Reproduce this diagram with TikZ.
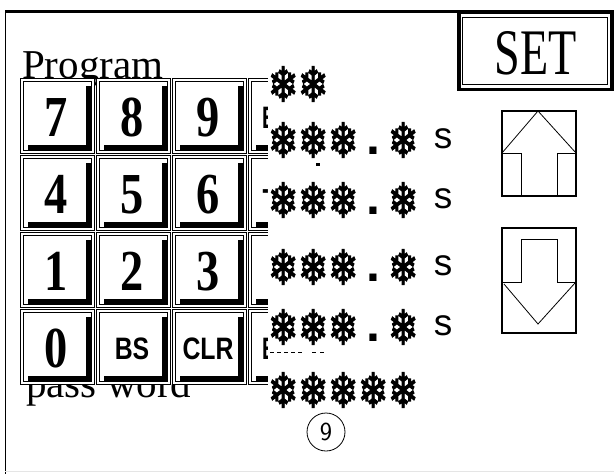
\documentclass[tikz,border=0pt]{standalone}
\usepackage{fontspec}
\setmainfont{Liberation Serif}
\newfontfamily\lsans{Liberation Sans}
\newfontfamily\djv{DejaVu Sans}[FakeBold=2.5]
\newcommand\mystar{\makebox[30pt]{\raisebox{-9.5pt}{\scalebox{0.75}[1]{\djv\bfseries\fontsize{48}{48}\selectfont ❄}}}}
\newcommand\mydot{\makebox[30pt]{\raisebox{-6pt}{\lsans\bfseries\fontsize{50}{50}\selectfont .}}}
\newcommand\mys{\makebox[50pt]{\lsans\fontsize{37}{37}\selectfont s}}
\begin{document}
\begin{tikzpicture}[x=1pt,y=-1pt,line join=miter,
  cellline/.style={draw=black,line width=0.9pt,fill=white},
  btnline/.style={draw=black,line width=0.9pt},
  bigkey/.style={inner sep=0pt,font=\bfseries\fontsize{58}{58}\selectfont},
  smallkey/.style={inner sep=0pt,font=\lsans\bfseries\fontsize{31}{31}\selectfont},
  bigtext/.style={anchor=base west,inner sep=0pt,font=\fontsize{41}{41}\selectfont},
  starrow/.style={anchor=base west,inner sep=0pt},
  arrowbox/.style={draw=black,line width=1.2pt},
  arrowline/.style={draw=black,line width=0.8pt}]
\useasboundingbox (0,0) rectangle (614,474);
\fill[white] (0,0) rectangle (614,474);
% frame
\draw[line width=3pt] (5,11.5) -- (614,11.5);
\draw[line width=1pt] (5.5,10) -- (5.5,474);
\draw[black!10,line width=1pt] (5,471.5) -- (614,471.5);
% background texts
\node[bigtext] (prog) at (22,78) {Program};
\node[bigtext] (pw) at (26,397) {pass word};
% keypad
\foreach \r/\c/\lab/\sty in {0/0/7/bigkey,0/1/8/bigkey,0/2/9/bigkey,
  1/0/4/bigkey,1/1/5/bigkey,1/2/6/bigkey,
  2/0/1/bigkey,2/1/2/bigkey,2/2/3/bigkey,
  3/0/0/bigkey,3/1/BS/smallkey,3/2/CLR/smallkey}{
  \pgfmathsetmacro\xo{18+76*\c}
  \pgfmathsetmacro\yo{76+77*\r}
  \draw[cellline] (\xo+2,\yo+2) rectangle (\xo+76,\yo+77);
  \draw[btnline] (\xo+5,\yo+5) rectangle (\xo+73,\yo+74);
  \fill (\xo+68,\yo+10) -- (\xo+73.4,\yo+10) -- (\xo+73.4,\yo+74.4) -- (\xo+10,\yo+74.4)
        -- (\xo+10,\yo+69) -- (\xo+68,\yo+69) -- cycle;
  \node[\sty] (k\r\c) at (\xo+38,\yo+41.5) {\scalebox{0.8}[1]{\lab}};
}
% fourth column (partly hidden)
\foreach \r/\lab in {0/E,1/-,2/{},3/E}{
  \pgfmathsetmacro\xo{246}
  \pgfmathsetmacro\yo{76+77*\r}
  \draw[cellline] (\xo+2,\yo+2) rectangle (\xo+76,\yo+77);
  \draw[btnline] (\xo+5,\yo+5) rectangle (\xo+73,\yo+74);
  \fill (\xo+68,\yo+10) -- (\xo+73.4,\yo+10) -- (\xo+73.4,\yo+74.4) -- (\xo+10,\yo+74.4)
        -- (\xo+10,\yo+69) -- (\xo+68,\yo+69) -- cycle;
  \node[smallkey,anchor=west] (k\r3) at (262,\yo+41.5) {\scalebox{0.65}[1]{\lab}};
}
% overlay of the value column
\fill[white] (268,60) rectangle (332,410);
\draw[line width=1.3pt,dash pattern=on 4pt off 3pt] (270,352.5) -- (303,352.5);
\draw[line width=1.3pt,dash pattern=on 4pt off 4pt] (312,352.5) -- (326,352.5);
\fill (315.5,163) rectangle (319.5,165.5);
% value rows
\node[starrow] (v1) at (268,92) {\mystar\mystar};
\node[starrow] (v2) at (268,148) {\mystar\mystar\mystar\mydot\mystar\mys};
\node[starrow] (v3) at (268,208) {\mystar\mystar\mystar\mydot\mystar\mys};
\node[starrow] (v4) at (268,275) {\mystar\mystar\mystar\mydot\mystar\mys};
\node[starrow] (v5) at (268,335) {\mystar\mystar\mystar\mydot\mystar\mys};
\node[starrow] (v6) at (268,398) {\mystar\mystar\mystar\mystar\mystar};
% SET button
\draw[line width=3.5pt] (458.75,12) rectangle (611.75,89.25);
\draw[line width=1pt] (462.5,17.5) rectangle (607.5,84.5);
\node[inner sep=0pt,font=\fontsize{65}{65}\selectfont] (set) at (536,53.5) {\scalebox{0.71}[1]{SET}};
% up arrow
\draw[arrowbox] (502,111) rectangle (576,196);
\draw[arrowline] (502,153) -- (521,153) -- (521,196);
\draw[arrowline] (576,153) -- (557,153) -- (557,196);
\draw[arrowline] (502,153) -- (538,111) -- (576,153);
% down arrow
\draw[arrowbox] (502,228) rectangle (576,333);
\draw[arrowline] (502,282) -- (521,282) -- (521,239) -- (557,239) -- (557,282) -- (576,282);
\draw[arrowline] (504,284) -- (538,324) -- (575,283);
% circled number
\node[circle,draw,line width=0.8pt,minimum size=38pt,inner sep=0pt,
      font=\sffamily\fontsize{26}{26}\selectfont] (num) at (326,432) {9};
\end{tikzpicture}
\end{document}
